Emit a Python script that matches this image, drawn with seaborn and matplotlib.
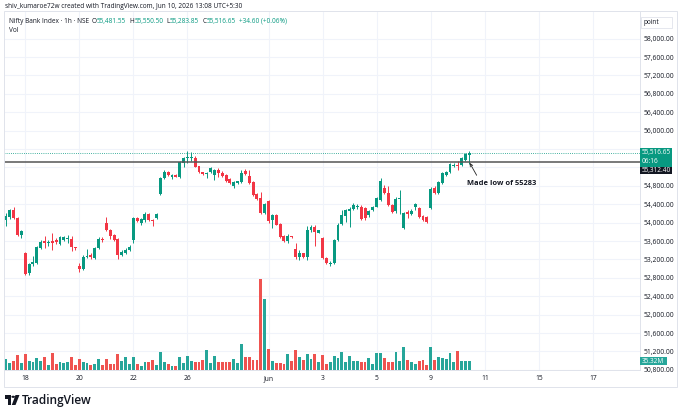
import matplotlib
matplotlib.use('Agg')
import matplotlib.pyplot as plt
from matplotlib.patches import Rectangle, Circle, Polygon
import seaborn as sns
import pandas as pd
import numpy as np

# hourly candles, Nifty Bank, 15 May -> 10 Jun
opens = [54060, 54120, 54280, 54110, 53740, 53340, 52900, 53100, 53120, 53460,
         53600, 53560, 53600, 53620, 53540, 53620, 53640, 53640, 53470, 53060,
         52990, 53250, 53300, 53230, 53440, 53650, 53990, 53850, 53730, 53640,
         53300, 53340, 53400, 53620, 54110, 53990, 54050, 54190, 54060, 54100,
         54620, 54980, 55100, 55000, 55040, 55000, 55300, 55410, 55400, 55410,
         55230, 55100, 55050, 55100, 55040, 55150, 55090, 55030, 54960, 54790,
         54870, 54880, 55120, 55020, 54890, 54620, 54530, 54210, 54480, 54060,
         54170, 53970, 53710, 53610, 53700, 53420, 53250, 53340, 53250, 53850,
         53900, 53780, 53660, 53230, 53100, 53120, 53620, 53970, 54150, 54260,
         54300, 54330, 54350, 54320, 54160, 54270, 54350, 54500, 54750, 54640,
         54380, 54250, 54520, 53890, 54240, 54190, 54330, 54310, 54150, 54120,
         54320, 54750, 54650, 54860, 55040, 55110, 55230, 55260, 55250, 55370,
         55481.55]
highs = [54210, 54300, 54330, 54130, 53830, 53360, 53130, 53280, 53490, 53620,
         53700, 53620, 53780, 53660, 53700, 53720, 53730, 53720, 53480, 53130,
         53290, 53420, 53330, 53470, 53680, 53680, 54120, 53870, 53760, 53660,
         53400, 53440, 53520, 54120, 54130, 54100, 54230, 54200, 54090, 54200,
         55000, 55140, 55120, 55060, 55050, 55330, 55420, 55560, 55540, 55440,
         55240, 55110, 55110, 55200, 55170, 55180, 55120, 55050, 54980, 54900,
         54910, 55150, 55160, 55150, 54900, 54640, 54660, 54420, 54500, 54190,
         54190, 53990, 53730, 53760, 53720, 53560, 53400, 53350, 53920, 53950,
         53940, 53840, 53680, 53250, 53160, 53650, 53990, 54280, 54300, 54340,
         54420, 54400, 54380, 54340, 54280, 54360, 54560, 54980, 54810, 54790,
         54400, 54560, 54700, 54240, 54280, 54290, 54430, 54330, 54170, 54140,
         54780, 54790, 54910, 55100, 55130, 55300, 55300, 55330, 55420, 55520,
         55550.50]
lows = [53920, 54080, 54090, 53720, 53660, 52860, 52870, 53050, 53100, 53430,
        53450, 53500, 53400, 53540, 53520, 53600, 53560, 53380, 53400, 52930,
        52980, 53230, 53200, 53200, 53420, 53590, 53820, 53640, 53600, 53220,
        53280, 53310, 53380, 53550, 54010, 53950, 54020, 54030, 53920, 54080,
        54600, 54950, 55010, 54950, 54990, 54980, 55200, 55300, 55330, 55200,
        55080, 55030, 54980, 55090, 54920, 55000, 55000, 54880, 54840, 54760,
        54850, 54860, 55040, 54830, 54590, 54490, 54190, 54180, 54000, 53890,
        53940, 53670, 53590, 53560, 53660, 53220, 53180, 53230, 53180, 53790,
        53500, 53770, 53200, 53110, 53050, 53100, 53600, 53950, 54010, 53900,
        54280, 54300, 54060, 54060, 54130, 54250, 54330, 54480, 54630, 54370,
        54220, 54220, 54180, 53870, 54110, 54170, 54280, 54110, 54040, 53990,
        54300, 54620, 54630, 54840, 55010, 55090, 55200, 55140, 55230, 55350,
        55283.85]
closes = [54150, 54270, 54110, 53740, 53810, 52890, 53110, 53150, 53470, 53580,
          53560, 53590, 53560, 53570, 53680, 53680, 53670, 53470, 53440, 52990,
          53260, 53280, 53250, 53440, 53640, 53620, 53850, 53700, 53630, 53300,
          53370, 53410, 53480, 54100, 54040, 54080, 54190, 54050, 54040, 54180,
          54980, 55110, 55040, 55030, 55000, 55310, 55400, 55420, 55430, 55220,
          55100, 55050, 55090, 55180, 55140, 55090, 55020, 54900, 54860, 54890,
          54900, 55070, 55060, 54860, 54610, 54510, 54210, 54400, 54030, 54170,
          53960, 53690, 53610, 53700, 53680, 53250, 53350, 53250, 53850, 53900,
          53790, 53830, 53230, 53130, 53130, 53620, 53960, 54160, 54270, 54300,
          54380, 54370, 54080, 54100, 54250, 54330, 54530, 54900, 54640, 54390,
          54240, 54520, 54540, 54200, 54190, 54260, 54400, 54130, 54060, 54010,
          54740, 54650, 54880, 55070, 55110, 55280, 55260, 55230, 55400, 55490,
          55516.65]
volumes = [46.6, 28.3, 38.2, 60.8, 28.3, 66.4, 38.2, 32.5, 50.9, 38.2,
           55.1, 22.6, 69.2, 26.8, 31.1, 29.7, 31.1, 55.1, 22.6, 46.6,
           32.5, 28.3, 19.8, 25.4, 46.6, 22.6, 46.6, 24.0, 24.0, 66.4,
           36.7, 52.3, 25.4, 55.1, 25.4, 18.4, 32.5, 32.5, 42.4, 21.2,
           73.5, 33.9, 26.8, 18.4, 18.4, 55.1, 29.7, 56.5, 36.7, 32.5,
           31.1, 41.0, 84.8, 28.3, 56.5, 32.5, 32.5, 32.5, 32.5, 46.6,
           29.7, 107.4, 52.3, 55.1, 39.6, 39.6, 375.9, 293.9, 89.0, 35.3,
           29.7, 29.7, 26.8, 67.8, 38.2, 84.8, 52.3, 41.0, 66.4, 46.6,
           66.4, 32.5, 62.2, 25.4, 32.5, 57.9, 48.0, 73.5, 32.5, 59.3,
           35.3, 35.3, 32.5, 32.5, 50.9, 25.4, 69.2, 69.2, 48.0, 31.1,
           31.1, 73.5, 35.3, 93.3, 39.6, 31.1, 26.8, 35.3, 42.4, 22.6,
           94.7, 41.0, 55.1, 48.0, 46.6, 70.7, 32.5, 77.7, 38.2, 38.2,
           35.32]  # millions

date_ticks = [5, 19, 33, 47, 68, 82, 96, 110, 124, 138, 152]
date_labels = ['18', '20', '22', '26', 'Jun', '3', '5', '9', '11', '15', '17']
price_ticks = list(range(50800, 58001, 400))
hidden_ticks = [55600, 55200]  # covered by the price labels on the scale
last_close = 55516.65
marked_level = 55312.40
low_of_day = 55283.85

UP, DOWN = '#089981', '#f23645'
VUP, VDOWN = '#26a69a', '#ef5350'
TXT = '#131722'
FS = 4.7

sns.set_theme(style='white')
plt.rcParams['font.family'] = ['Open Sans', 'DejaVu Sans']

W, H = 680, 415
fig = plt.figure(figsize=(6.8, 4.15), dpi=100)
fig.patch.set_facecolor('white')


def fx(px):
    return px / W


def fy(py):
    return 1 - py / H


L, R, T, B = 4, 640, 12, 370
rect = [fx(L), fy(B), fx(R) - fx(L), fy(T) - fy(B)]
ax = fig.add_axes(rect)
axv = fig.add_axes(rect, sharex=ax)
axv.patch.set_visible(False)

n = len(closes)
idx = np.arange(n)
o = np.array(opens)
c = np.array(closes)
up = c >= o

# price pane
ax.set_xlim(-0.5, 164.2)
ax.set_ylim(50797, 58580)
ax.set_yticks(price_ticks)
ax.set_yticklabels(['' if p in hidden_ticks else f'{p:,.2f}' for p in price_ticks])
ax.yaxis.tick_right()
ax.set_xticks(date_ticks)
ax.set_xticklabels(date_labels)
ax.tick_params(axis='both', length=0, labelsize=FS + 0.2, colors=TXT)
ax.tick_params(axis='y', pad=2.5)
ax.tick_params(axis='x', pad=3.5)
ax.grid(True, color='#f0f3fa', lw=0.8)
ax.set_axisbelow(True)
for s in ['top', 'left']:
    ax.spines[s].set_visible(False)
for s in ['right', 'bottom']:
    ax.spines[s].set_color('#e0e3eb')
    ax.spines[s].set_linewidth(0.7)

ccol = np.where(up, UP, DOWN)
ax.vlines(idx, lows, highs, colors=ccol, lw=0.7, zorder=3)
body = np.maximum(np.abs(c - o), 8)
ax.bar(idx, body, bottom=np.minimum(o, c), width=0.76, color=ccol, linewidth=0, zorder=4)

ax.axhline(last_close, color=UP, lw=0.6, ls=(0, (1, 1.6)), zorder=2)
ax.axhline(marked_level, color='#555555', lw=1.1, zorder=5)

ax.annotate('', xy=(120.1, low_of_day + 15), xytext=(121.9, 55030),
            arrowprops=dict(arrowstyle='->', color='#222222', lw=0.6,
                            shrinkA=0, shrinkB=0, mutation_scale=5))
ax.text(119.3, 54850, 'Made low of 55283', fontsize=5.4, fontweight='bold',
        color=TXT, va='center', ha='left')

# volume overlay
df = pd.DataFrame({'bar': idx, 'vol': volumes, 'dir': np.where(up, 'up', 'down')})
sns.barplot(data=df, x='bar', y='vol', hue='dir', palette={'up': VUP, 'down': VDOWN},
            native_scale=True, width=0.74, errorbar=None, legend=False,
            saturation=1, linewidth=0, ax=axv)
axv.set_ylim(0, 1483)
axv.set_xlim(-0.5, 164.2)
axv.set_yticks([])
axv.set_xlabel('')
axv.set_ylabel('')
axv.tick_params(axis='x', bottom=False, labelbottom=False)
for s in axv.spines.values():
    s.set_visible(False)

# outer frame
fig.add_artist(Rectangle((fx(4), fy(387)), fx(677) - fx(4), fy(11) - fy(387),
                         transform=fig.transFigure, fill=False, ec='#e0e3eb', lw=0.7))


def ypix(ax_, val):
    disp = ax_.transData.transform((0, val))[1]
    return H - disp * H / fig.bbox.height


def label_box(y0, y1, x0, x1, color):
    fig.add_artist(Rectangle((fx(x0), fy(y1)), fx(x1) - fx(x0), fy(y0) - fy(y1),
                             transform=fig.transFigure, color=color, lw=0, zorder=10))


yc = ypix(ax, last_close)
label_box(yc - 5, yc + 14, 640, 672, UP)
fig.text(fx(642), fy(yc), f'{last_close:,.2f}', fontsize=FS, color='white', va='center', zorder=11)
fig.text(fx(642), fy(yc + 8.5), '06:16', fontsize=FS, color='white', va='center', zorder=11)
label_box(yc + 14, yc + 21.5, 640, 672, '#131722')
fig.text(fx(642), fy(yc + 17.8), f'{marked_level:,.2f}', fontsize=FS, color='white',
         va='center', zorder=11)

yv = ypix(axv, volumes[-1])
label_box(yv - 4, yv + 4, 640, 667, VUP)
fig.text(fx(642), fy(yv), f'{volumes[-1]:.2f}M', fontsize=FS, color='white', va='center', zorder=11)

fig.add_artist(Rectangle((fx(641), fy(28)), fx(672) - fx(641), fy(17.5) - fy(28),
                         transform=fig.transFigure, fill=False, ec='#e0e3eb', lw=0.6))
fig.text(fx(643), fy(22.7), 'point', fontsize=FS, color=TXT, va='center')

# header and legend
fig.text(fx(5), fy(6.5), 'shiv_kumaroe72w created with TradingView.com, Jun 10, 2026 13:08 UTC+5:30',
         fontsize=FS, color=TXT, va='center')
renderer = fig.canvas.get_renderer()
ly = 21.5
pieces = [('Nifty Bank Index · 1h · NSE', TXT, 2.5), ('O', TXT, 0.4), ('55,481.55', UP, 3),
          ('H', TXT, 0.4), ('55,550.50', UP, 3), ('L', TXT, 0.4), ('55,283.85', UP, 3),
          ('C', TXT, 0.4), ('55,516.65', UP, 3), ('+34.60 (+0.06%)', UP, 0)]
xpos = 9
for s, col, gap in pieces:
    t = fig.text(fx(xpos), fy(ly), s, fontsize=FS, color=col, va='center')
    xpos = t.get_window_extent(renderer).x1 + gap
fig.text(fx(9), fy(31), 'Vol', fontsize=FS, color=TXT, va='center')

# TradingView logo
fig.add_artist(Rectangle((fx(5), fy(398.5)), fx(11) - fx(5), fy(395) - fy(398.5),
                         transform=fig.transFigure, color=TXT, lw=0))
fig.add_artist(Rectangle((fx(8), fy(405)), fx(11) - fx(8), fy(395) - fy(405),
                         transform=fig.transFigure, color=TXT, lw=0))
fig.add_artist(Circle((fx(13.2), fy(396.8)), fx(1.8), transform=fig.transFigure, color=TXT, lw=0))
fig.add_artist(Polygon([(fx(15.5), fy(395)), (fx(19.5), fy(395)), (fx(15.5), fy(405)), (fx(11.8), fy(405))],
                       closed=True, transform=fig.transFigure, color=TXT, lw=0))
fig.text(fx(22), fy(400), 'TradingView', fontsize=8.6, fontweight='semibold', color=TXT, va='center')

fig.savefig('out.png', dpi=100, facecolor='white')
